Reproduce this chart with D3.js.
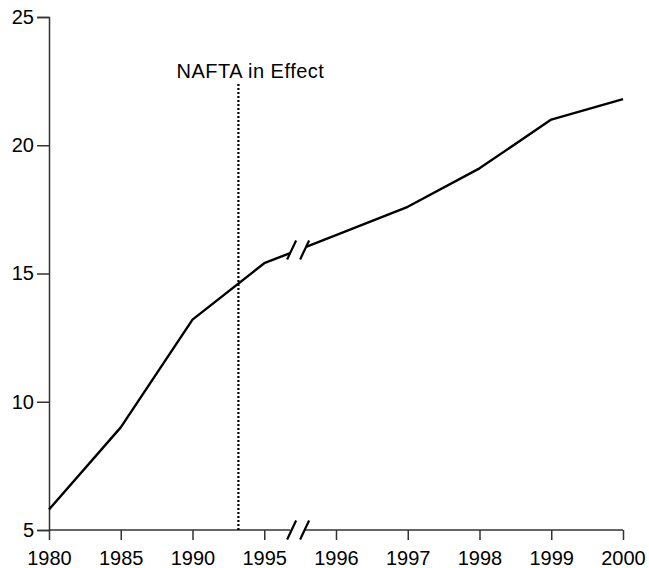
<!DOCTYPE html>
<html><head><meta charset="utf-8">
<script src="https://cdn.jsdelivr.net/npm/d3@7"></script>
<style>body{margin:0;background:#fff}svg{display:block}text{font-family:"Liberation Sans",Arial,sans-serif}</style>
</head><body>
<script>
const years = ["1980","1985","1990","1995","1996","1997","1998","1999","2000"];
const values = [5.8, 9.0, 13.2, 15.4, 16.5, 17.6, 19.1, 21.0, 21.8];
const yTicks = [5, 10, 15, 20, 25];
const naftaPos = 2.64;           // position in year-slot units (between 1990 and 1995)
const naftaLabel = "NAFTA in Effect";
const breakPos = 3.5;            // axis break between 1995 and 1996

const W = 649, H = 568;
const m = {l: 49, r: 26, t: 17, b: 38};
const svg = d3.select("body").append("svg").attr("width", W).attr("height", H);

const x = d3.scaleLinear().domain([0, years.length - 1]).range([m.l, W - m.r]);
const y = d3.scaleLinear().domain([5, 25]).range([H - m.b, m.t]);
const fs = 20;

// y axis
const yAxis = svg.append("g").attr("transform", `translate(${m.l},0)`)
  .call(d3.axisLeft(y).tickValues(yTicks).tickSize(12).tickPadding(3));
yAxis.select(".domain").attr("stroke", "#333").attr("stroke-width", 1.5);
yAxis.selectAll(".tick line").attr("stroke", "#333").attr("stroke-width", 1.5);
yAxis.selectAll("text").attr("font-size", fs).attr("fill", "#000").attr("font-family", '"Liberation Sans",Arial,sans-serif');

// x axis
const xAxis = svg.append("g").attr("transform", `translate(0,${y(5)})`)
  .call(d3.axisBottom(x).tickValues(d3.range(years.length)).tickFormat(i => years[i]).tickSize(10).tickPadding(11));
xAxis.select(".domain").remove();
xAxis.selectAll(".tick line").attr("stroke", "#333").attr("stroke-width", 1.5);
xAxis.selectAll("text").attr("font-size", fs).attr("fill", "#000").attr("font-family", '"Liberation Sans",Arial,sans-serif');

const bx = x(breakPos);
const gapL = bx - 10, gapR = bx + 4;
// x axis line with break
svg.append("line").attr("x1", x(0)).attr("x2", gapL).attr("y1", y(5)).attr("y2", y(5)).attr("stroke", "#333").attr("stroke-width", 1.5);
svg.append("line").attr("x1", gapR).attr("x2", x(years.length - 1)).attr("y1", y(5)).attr("y2", y(5)).attr("stroke", "#333").attr("stroke-width", 1.5);

function slashes(cy, cx1, cx2) {
  [cx1, cx2].forEach(cx => {
    svg.append("line").attr("x1", cx - 4.5).attr("y1", cy + 9.5).attr("x2", cx + 4.5).attr("y2", cy - 9.5)
      .attr("stroke", "#000").attr("stroke-width", 2.2);
  });
}
slashes(y(5), bx - 8.5, bx + 4.5);

// data line with break
const pts = values.map((v, i) => [x(i), y(v)]);
const iB = 3; // segment from 1995 to 1996 is broken
const lerp = (a, b, t) => [a[0] + (b[0] - a[0]) * t, a[1] + (b[1] - a[1]) * t];
const seg = pts[iB + 1][0] - pts[iB][0];
const pL = lerp(pts[iB], pts[iB + 1], (gapL - pts[iB][0]) / seg);
const pR = lerp(pts[iB], pts[iB + 1], (gapR + 2 - pts[iB][0]) / seg);
const line = d3.line();
svg.append("path").attr("d", line(pts.slice(0, iB + 1).concat([pL])))
  .attr("fill", "none").attr("stroke", "#000").attr("stroke-width", 2.4).attr("stroke-linejoin", "round");
svg.append("path").attr("d", line([pR].concat(pts.slice(iB + 1))))
  .attr("fill", "none").attr("stroke", "#000").attr("stroke-width", 2.4).attr("stroke-linejoin", "round");
const midY = (pL[1] + pR[1]) / 2;
slashes(midY, bx - 8.5, bx + 4.5);

// NAFTA marker
svg.append("line").attr("x1", x(naftaPos)).attr("x2", x(naftaPos)).attr("y1", 84).attr("y2", y(5))
  .attr("stroke", "#000").attr("stroke-width", 2.2).attr("stroke-dasharray", "2,2");
svg.append("text").attr("x", x(naftaPos) + 12).attr("y", 78).attr("text-anchor", "middle")
  .attr("font-size", fs).attr("letter-spacing", "0.5px").text(naftaLabel);
</script>
</body></html>
